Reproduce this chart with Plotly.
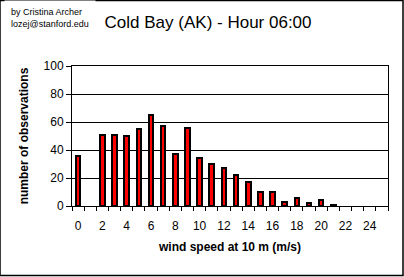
import plotly.graph_objects as go

speeds = list(range(0, 26))
counts = [36, 0, 51, 51, 50, 55, 65, 57, 37, 56, 34, 30, 27, 22, 17, 10, 10, 3, 6, 2, 4, 1, 0, 0, 0, 0]
x_tick_vals = list(range(0, 25, 2))
y_tick_vals = [0, 20, 40, 60, 80, 100]

outline_widths = [2 if c > 0 else 0 for c in counts]

fig = go.Figure()
fig.add_trace(go.Bar(
    x=speeds, y=counts, width=0.38,
    marker=dict(color="#FF0000", line=dict(color="black", width=outline_widths)),
))

font = "Arial, Liberation Sans, sans-serif"
fig.update_layout(
    width=404, height=277,
    margin=dict(l=72, r=16, t=66, b=71),
    paper_bgcolor="white", plot_bgcolor="white",
    showlegend=False,
    font=dict(family=font, color="black", size=12),
    title=dict(text="Cold Bay (AK) - Hour 06:00", x=0.515, xanchor="center",
               y=1 - 22 / 277, yanchor="middle", font=dict(size=17, family=font, color="black")),
    bargap=0,
)
fig.update_xaxes(
    range=[-0.5, 25.5], tickmode="array", tickvals=x_tick_vals,
    ticks="", ticklen=0, showgrid=False, zeroline=False,
    showline=True, linecolor="black", linewidth=1, mirror=True,
    tickfont=dict(size=12, family=font, color="black"),
    ticklabelstandoff=9,
    minor=dict(tickmode="array", tickvals=[i - 0.5 for i in range(27)],
               ticks="outside", ticklen=4, tickcolor="black", tickwidth=1, showgrid=False),
    title=dict(text="<b>wind speed at 10 m (m/s)</b>", font=dict(size=12, family=font, color="black"),
               standoff=10),
)
fig.update_yaxes(
    range=[0, 100], tickmode="array", tickvals=y_tick_vals,
    ticks="outside", ticklen=5, tickcolor="black", tickwidth=1,
    showgrid=True, gridcolor="black", gridwidth=1, zeroline=False,
    showline=True, linecolor="black", linewidth=1, mirror=True,
    tickfont=dict(size=12, family=font, color="black"),
    title=dict(text="<b>number of observations</b>", font=dict(size=12, family=font, color="black"),
               standoff=12),
)
# outer frame
fig.add_shape(type="rect", xref="paper", yref="paper", x0=-72/316, x1=(316+15)/316,
              y0=-(71-1.5)/140, y1=(140+65.5)/140, line=dict(color="black", width=1.5),
              fillcolor="rgba(0,0,0,0)", layer="below")
fig.add_annotation(text="by Cristina Archer<br>lozej@stanford.edu", xref="paper", yref="paper",
                   x=-72/316 + 4/316, y=(140+66)/140, xanchor="left", yanchor="top",
                   align="left", showarrow=False, bgcolor="white",
                   font=dict(size=9, family=font, color="black"), borderpad=6)

fig.write_html("out.html")
